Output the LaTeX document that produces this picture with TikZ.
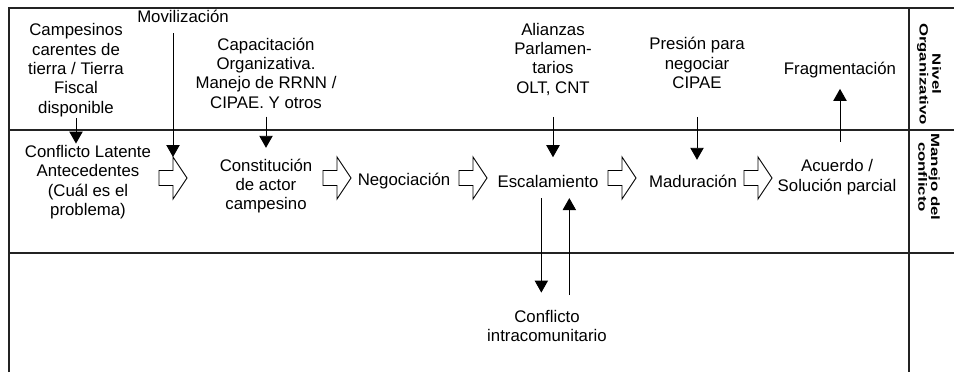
\documentclass[tikz,border=0pt]{standalone}
\usepackage{fontspec}
\setmainfont{Liberation Sans}
\newfontfamily\lvlfont[FakeStretch=1.4]{Liberation Sans}
\usetikzlibrary{arrows.meta, calc}
\definecolor{framegray}{RGB}{35, 35, 35}

\tikzset{
    txt/.style={align=center, inner sep=1pt, font=\fontsize{12.6}{14.5}\selectfont},
    lvl/.style={align=center, inner sep=0pt, rotate=-90, font=\lvlfont\fontsize{9}{9.5}\selectfont\bfseries},
    conn/.style={-{Triangle[length=9pt, width=10pt]}, line width=0.7pt},
    blockarrow/.pic={
        \draw[line width=0.7pt] (-14,-7.5) -- (0,-7.5) -- (0,-21) -- (14,0) -- (0,21) -- (0,7.5) -- (-14,7.5) -- cycle;
        \coordinate (-top) at (0,-21);
    }
}

\begin{document}
\begin{tikzpicture}[x=0.75pt, y=-0.75pt]
    \useasboundingbox (0,0) rectangle (954,372);

    % Frame
    \draw[framegray, line width=0.9pt] (9,372) -- (9,8) -- (954,8);
    \draw[framegray, line width=0.9pt] (9,130) -- (954,130);
    \draw[framegray, line width=0.9pt] (9,253) -- (954,253);
    \draw[framegray, line width=0.9pt] (909,8) -- (909,372);

    % Level labels
    \node[lvl] (nivel) at (929,74) {Nivel\\Organizativo};
    \node[lvl] (manejo) at (929,177) {Manejo del\\conflicto};

    % Organizational level
    \node[txt] (camp) at (76,70) {Campesinos\\carentes de\\tierra / Tierra\\Fiscal\\disponible};
    \node[txt] (mov) at (183,16) {Movilización};
    \node[txt] (capa) at (266,73) {Capacitación\\Organizativa.\\Manejo de RRNN /\\CIPAE. Y otros};
    \node[txt] (alia) at (553,59) {Alianzas\\Parlamen-\\tarios\\OLT, CNT};
    \node[txt] (pres) at (697,63) {Presión para\\negociar\\CIPAE};
    \node[txt] (frag) at (840,70) {Fragmentación};

    % Conflict handling
    \node[txt] (lat) at (88,182) {Conflicto Latente\\Antecedentes\\(Cuál es el\\problema)};
    \node[txt] (const) at (266,186) {Constitución\\de actor\\campesino};
    \node[txt] (neg) at (404,181) {Negociación};
    \node[txt] (esc) at (548,181) {Escalamiento};
    \node[txt] (mad) at (693,181) {Maduración};
    \node[txt] (acu) at (837,177) {Acuerdo /\\Solución parcial};

    % Community level
    \node[txt] (intra) at (547,326) {Conflicto\\intracomunitario};

    % Block arrows
    \foreach \name/\x in {arrA/173, arrB/337, arrC/473, arrD/622, arrE/758}
        \pic (\name) at (\x,178) {blockarrow};

    % Connectors
    \draw[conn] (camp.south) -- (camp.south |- lat.north);
    \draw[conn, shorten <=7pt] (mov.south -| arrA-top) -- (arrA-top);
    \draw[conn, shorten <=5pt, shorten >=7pt] (capa.south) -- (capa.south |- const.north);
    \draw[conn, shorten <=15pt, shorten >=12pt] (alia.south) -- (alia.south |- esc.north);
    \draw[conn, shorten <=20pt, shorten >=10pt] (pres.south) -- (pres.south |- mad.north);
    \draw[conn, shorten <=12pt, shorten >=7pt] (acu.north -| frag.south) -- (frag.south);
    \draw[conn, shorten <=7pt, shorten >=12pt] ([xshift=-5pt]esc.south) -- ([xshift=-5pt]esc.south |- intra.north);
    \draw[conn, shorten <=10pt, shorten >=7pt] ([xshift=16pt]esc.south |- intra.north) -- ([xshift=16pt]esc.south);

\end{tikzpicture}
\end{document}
